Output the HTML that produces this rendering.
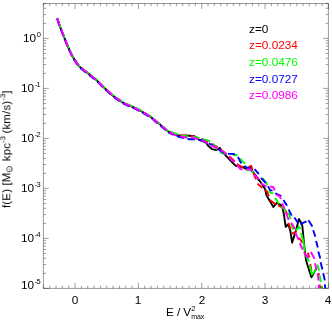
<!DOCTYPE html><html><head><meta charset="utf-8"><style>
html,body{margin:0;padding:0;background:#fff;}body{width:332px;height:332px;position:relative;overflow:hidden;font-family:"Liberation Sans",sans-serif;font-size:11.8px;color:#000;}
.t{position:absolute;white-space:nowrap;line-height:12px;will-change:transform;}
.s{font-size:7.5px;position:relative;}
</style></head><body>
<svg width="332" height="332" viewBox="0 0 332 332" style="position:absolute;left:0;top:0">
<defs><clipPath id="c"><rect x="43.4" y="3.5" width="285" height="284.9"/></clipPath></defs>
<g clip-path="url(#c)" fill="none" stroke-width="1.9" stroke-linejoin="round" stroke-linecap="butt">
<path d="M57.2,18.1 L59.9,26.3 L64.1,37.1 L68.1,47.1 L72.6,56.6 L75.0,60.4 L77.1,63.3 L79.5,66.7 L82.5,69.0 L87.7,73.1 L95.8,79.4 L103.9,87.5 L113.0,95.7 L122.0,102.0 L125.0,103.6 L133.1,107.1 L141.3,111.2 L150.3,116.6 L159.4,123.9 L168.4,131.7 L175.2,135.0 L180.0,135.7 L189.7,135.7 L194.5,136.3 L199.3,139.9 L206.0,142.5 L208.4,146.1 L212.0,149.1 L216.3,150.0 L219.9,147.9 L221.7,150.9 L226.5,156.3 L231.0,161.1 L235.8,165.9 L243.0,167.2 L246.0,168.8 L248.4,167.8 L250.9,166.2 L252.3,171.0 L254.5,174.0 L256.0,175.8 L258.6,179.6 L262.0,184.0 L265.3,189.5 L266.3,195.0 L269.5,200.5 L273.4,206.9 L276.8,203.0 L280.7,204.9 L282.6,208.0 L284.0,215.0 L285.7,226.9 L288.1,224.3 L290.2,230.0 L292.1,242.6 L296.0,230.4 L298.9,218.9 L301.3,223.0 L302.3,225.5 L304.2,245.0 L306.0,260.0 L307.7,265.8 L311.4,277.3 L316.3,268.6" stroke="#000"/>
<path d="M243.0,167.9 L240.0,165.8 L237.7,164.7 L235.2,161.7 L230.0,157.0 L222.0,150.5 L216.9,146.7 L208.0,142.5 L203.0,139.5 L199.3,139.0 L194.0,136.5 L186.0,135.4 L179.4,135.4 L175.2,134.6 L168.4,131.7" stroke="#ff0000" stroke-dasharray="7.3 3.7" stroke-dashoffset="0.00"/>
<path d="M168.4,131.7 L159.4,123.9 L150.3,116.6 L141.3,111.2 L133.1,107.1 L125.0,103.6 L122.0,102.0 L113.0,95.7 L103.9,87.5 L95.8,79.4 L87.7,73.1 L82.5,69.0 L79.5,66.7 L77.1,63.3 L75.0,60.4 L72.6,56.6 L68.1,47.1 L64.1,37.1 L59.9,26.3 L57.2,18.1" stroke="#ff0000" stroke-dasharray="7.3 3.7" stroke-dashoffset="9.02"/>
<path d="M248.4,167.6 L251.1,165.8 L252.3,169.1 M253.5,173.0 L254.6,176.0 L256.0,179.5 M257.5,183.6 L262.2,187.9 M265.0,190.2 L267.1,191.6 L268.9,196.2 M269.9,199.9 L274.4,203.5 L275.8,203.7 M278.0,205.5 L282.8,207.7 M285.3,210.3 L287.3,214.3 M288.4,222.7 L290.6,229.2 M291.8,233.7 L296.0,231.9 M299.0,237.7 L302.7,243.0 M304.2,251.8 L305.4,253.0 M307.8,252.7 L309.3,257.5 M310.3,264.0 L311.5,271.0 M318.4,273.0 L319.3,275.2 M319.7,284.7 L320.4,288.4" stroke="#ff0000"/>
<path d="M245.1,163.7 L241.2,159.8 L240.0,158.7 L236.4,155.0 L230.0,154.0 L222.9,153.3 L219.3,152.1 L215.0,146.0 L213.3,143.7 L208.4,140.7 L199.3,138.0 L194.0,136.9 L186.0,136.3 L180.0,135.0 L175.2,133.3 L168.4,131.2" stroke="#00ff00" stroke-dasharray="7.3 3.7" stroke-dashoffset="0.00"/>
<path d="M168.4,131.2 L159.4,123.4 L150.3,116.1 L141.3,110.7 L133.1,106.6 L125.0,103.1 L122.0,101.5 L113.0,95.2 L103.9,87.0 L95.8,78.9 L87.7,72.6 L82.5,68.5 L79.5,66.2 L77.1,62.8 L75.0,59.9 L72.6,56.1 L68.1,46.6 L64.1,36.6 L59.9,25.8 L57.2,17.6" stroke="#00ff00" stroke-dasharray="7.3 3.7" stroke-dashoffset="0.02"/>
<path d="M246.3,170.0 L251.0,170.4 L253.3,173.0 M262.8,178.4 L267.7,185.0 M268.9,190.2 L270.4,192.8 L273.4,193.4 M275.0,197.7 L279.2,204.0 M281.5,206.3 L286.1,211.0 M288.6,212.4 L290.5,219.0 M290.8,224.0 L293.5,229.5 M295.7,230.7 L299.2,226.6 L300.0,229.0 M301.1,233.1 L303.3,241.0 M303.3,241.0 L304.8,251.4 M306.0,255.7 L308.6,260.5 L309.3,261.5 M309.6,265.0 L312.0,274.5 L316.0,269.6 M317.0,266.4 L317.5,265.2 L319.2,270.6 M319.7,275.3 L320.8,282.0 M321.6,286.0 L322.0,288.4" stroke="#00ff00"/>
<path d="M254.5,169.1 L251.1,168.2 L247.5,167.9 L244.8,166.4 L241.8,163.7 L240.0,161.3 L238.9,158.7 L236.4,155.7 L233.4,153.9 L228.9,153.9 L224.0,153.0 L218.0,149.0 L210.0,144.0 L203.0,140.5 L197.0,139.3 L189.7,139.3 L186.0,138.7 L178.8,136.9 L175.2,135.6 L168.4,132.5" stroke="#0000ff" stroke-dasharray="7.3 3.7" stroke-dashoffset="7.30"/>
<path d="M168.4,132.5 L159.4,124.7 L150.3,117.4 L141.3,112.0 L133.1,107.9 L125.0,104.4 L122.0,102.8 L113.0,96.5 L103.9,88.3 L95.8,80.2 L87.7,73.9 L82.5,69.8 L79.5,67.5 L77.1,64.1 L75.0,61.2 L72.6,57.4 L68.1,47.9 L64.1,37.9 L59.9,27.1 L57.2,18.9" stroke="#0000ff" stroke-dasharray="7.3 3.7" stroke-dashoffset="7.62"/>
<path d="M254.5,169.1 L258.9,174.1 M261.0,177.8 L265.8,183.0 M268.0,186.3 L270.1,190.1 L272.5,190.7 M275.2,193.4 L281.4,196.2 M283.5,200.0 L287.0,205.8 M288.6,209.5 L291.7,215.7 M294.4,217.5 L298.1,222.9 M300.2,224.1 L306.5,221.4 M308.4,220.2 L312.4,226.4 M313.2,230.3 L315.4,236.8 M316.1,241.1 L317.8,247.6 M318.3,251.5 L320.3,258.5 M320.6,262.3 L322.4,269.4 M323.2,273.2 L324.8,280.4 M324.8,284.3 L325.3,288.4" stroke="#0000ff"/>
<path d="M246.0,169.4 L242.4,169.7 L240.0,168.8 L238.3,166.5 L234.6,162.3 L229.8,158.1 L226.8,154.5 L224.1,152.1 L215.7,147.3 L209.6,144.9 L206.0,141.9 L199.3,139.3 L190.3,136.9 L186.0,137.5 L180.0,136.3 L175.2,135.0 L168.4,131.7 L159.4,123.9 L150.3,116.6 L141.3,111.2 L133.1,107.1 L125.0,103.6 L122.0,102.0 L113.0,95.7 L103.9,87.5 L95.8,79.4 L87.7,73.1 L82.5,69.0 L79.5,66.7 L77.1,63.3 L75.0,60.4 L72.6,56.6 L68.1,47.1 L64.1,37.1 L59.9,26.3 L57.2,18.1" stroke="#ff00ff" stroke-dasharray="7.3 3.7" stroke-dashoffset="7.30"/>
<path d="M57.2,18.1 L58.0,20.5 M246.0,169.4 L250.3,169.5 L252.4,171.2 M254.2,174.6 L258.9,179.0 M261.0,183.2 L265.5,186.0 L266.5,186.3 M270.1,186.5 L273.1,187.0 L274.9,190.4 M276.3,194.7 L279.4,196.0 L281.0,198.9 M282.2,203.1 L284.6,209.2 M285.9,212.7 L288.7,219.9 M291.2,222.8 L295.1,229.1 M295.5,232.8 L298.7,239.8 M299.7,243.0 L302.7,249.6 M303.9,252.3 L308.5,258.2 M310.9,252.0 L314.6,258.9 M314.9,263.2 L316.7,269.7 M317.6,273.4 L318.6,280.6 M318.6,284.6 L319.0,288.4" stroke="#ff00ff"/>
</g>
<path d="M43.4,3.5 H328.4 V288.4 H43.4 Z" fill="none" stroke="#000" stroke-width="0.4"/>
<path d="M43.40,288.4 v-2.7 M43.40,3.5 v2.7 M49.73,288.4 v-2.7 M49.73,3.5 v2.7 M56.07,288.4 v-2.7 M56.07,3.5 v2.7 M62.40,288.4 v-2.7 M62.40,3.5 v2.7 M68.73,288.4 v-2.7 M68.73,3.5 v2.7 M75.07,288.4 v-5.5 M75.07,3.5 v5.5 M81.40,288.4 v-2.7 M81.40,3.5 v2.7 M87.73,288.4 v-2.7 M87.73,3.5 v2.7 M94.07,288.4 v-2.7 M94.07,3.5 v2.7 M100.40,288.4 v-2.7 M100.40,3.5 v2.7 M106.73,288.4 v-2.7 M106.73,3.5 v2.7 M113.07,288.4 v-2.7 M113.07,3.5 v2.7 M119.40,288.4 v-2.7 M119.40,3.5 v2.7 M125.73,288.4 v-2.7 M125.73,3.5 v2.7 M132.07,288.4 v-2.7 M132.07,3.5 v2.7 M138.40,288.4 v-5.5 M138.40,3.5 v5.5 M144.73,288.4 v-2.7 M144.73,3.5 v2.7 M151.07,288.4 v-2.7 M151.07,3.5 v2.7 M157.40,288.4 v-2.7 M157.40,3.5 v2.7 M163.73,288.4 v-2.7 M163.73,3.5 v2.7 M170.07,288.4 v-2.7 M170.07,3.5 v2.7 M176.40,288.4 v-2.7 M176.40,3.5 v2.7 M182.73,288.4 v-2.7 M182.73,3.5 v2.7 M189.07,288.4 v-2.7 M189.07,3.5 v2.7 M195.40,288.4 v-2.7 M195.40,3.5 v2.7 M201.73,288.4 v-5.5 M201.73,3.5 v5.5 M208.07,288.4 v-2.7 M208.07,3.5 v2.7 M214.40,288.4 v-2.7 M214.40,3.5 v2.7 M220.73,288.4 v-2.7 M220.73,3.5 v2.7 M227.07,288.4 v-2.7 M227.07,3.5 v2.7 M233.40,288.4 v-2.7 M233.40,3.5 v2.7 M239.73,288.4 v-2.7 M239.73,3.5 v2.7 M246.07,288.4 v-2.7 M246.07,3.5 v2.7 M252.40,288.4 v-2.7 M252.40,3.5 v2.7 M258.73,288.4 v-2.7 M258.73,3.5 v2.7 M265.07,288.4 v-5.5 M265.07,3.5 v5.5 M271.40,288.4 v-2.7 M271.40,3.5 v2.7 M277.73,288.4 v-2.7 M277.73,3.5 v2.7 M284.07,288.4 v-2.7 M284.07,3.5 v2.7 M290.40,288.4 v-2.7 M290.40,3.5 v2.7 M296.73,288.4 v-2.7 M296.73,3.5 v2.7 M303.07,288.4 v-2.7 M303.07,3.5 v2.7 M309.40,288.4 v-2.7 M309.40,3.5 v2.7 M315.73,288.4 v-2.7 M315.73,3.5 v2.7 M322.07,288.4 v-2.7 M322.07,3.5 v2.7 M328.40,288.4 v-5.5 M328.40,3.5 v5.5 M43.4,288.40 h5.4 M328.4,288.40 h-5.4 M43.4,273.35 h2.7 M328.4,273.35 h-2.7 M43.4,264.54 h2.7 M328.4,264.54 h-2.7 M43.4,258.30 h2.7 M328.4,258.30 h-2.7 M43.4,253.45 h2.7 M328.4,253.45 h-2.7 M43.4,249.49 h2.7 M328.4,249.49 h-2.7 M43.4,246.15 h2.7 M328.4,246.15 h-2.7 M43.4,243.25 h2.7 M328.4,243.25 h-2.7 M43.4,240.69 h2.7 M328.4,240.69 h-2.7 M43.4,238.40 h5.4 M328.4,238.40 h-5.4 M43.4,223.35 h2.7 M328.4,223.35 h-2.7 M43.4,214.54 h2.7 M328.4,214.54 h-2.7 M43.4,208.30 h2.7 M328.4,208.30 h-2.7 M43.4,203.45 h2.7 M328.4,203.45 h-2.7 M43.4,199.49 h2.7 M328.4,199.49 h-2.7 M43.4,196.15 h2.7 M328.4,196.15 h-2.7 M43.4,193.25 h2.7 M328.4,193.25 h-2.7 M43.4,190.69 h2.7 M328.4,190.69 h-2.7 M43.4,188.40 h5.4 M328.4,188.40 h-5.4 M43.4,173.35 h2.7 M328.4,173.35 h-2.7 M43.4,164.54 h2.7 M328.4,164.54 h-2.7 M43.4,158.30 h2.7 M328.4,158.30 h-2.7 M43.4,153.45 h2.7 M328.4,153.45 h-2.7 M43.4,149.49 h2.7 M328.4,149.49 h-2.7 M43.4,146.15 h2.7 M328.4,146.15 h-2.7 M43.4,143.25 h2.7 M328.4,143.25 h-2.7 M43.4,140.69 h2.7 M328.4,140.69 h-2.7 M43.4,138.40 h5.4 M328.4,138.40 h-5.4 M43.4,123.35 h2.7 M328.4,123.35 h-2.7 M43.4,114.54 h2.7 M328.4,114.54 h-2.7 M43.4,108.30 h2.7 M328.4,108.30 h-2.7 M43.4,103.45 h2.7 M328.4,103.45 h-2.7 M43.4,99.49 h2.7 M328.4,99.49 h-2.7 M43.4,96.15 h2.7 M328.4,96.15 h-2.7 M43.4,93.25 h2.7 M328.4,93.25 h-2.7 M43.4,90.69 h2.7 M328.4,90.69 h-2.7 M43.4,88.40 h5.4 M328.4,88.40 h-5.4 M43.4,73.35 h2.7 M328.4,73.35 h-2.7 M43.4,64.54 h2.7 M328.4,64.54 h-2.7 M43.4,58.30 h2.7 M328.4,58.30 h-2.7 M43.4,53.45 h2.7 M328.4,53.45 h-2.7 M43.4,49.49 h2.7 M328.4,49.49 h-2.7 M43.4,46.15 h2.7 M328.4,46.15 h-2.7 M43.4,43.25 h2.7 M328.4,43.25 h-2.7 M43.4,40.69 h2.7 M328.4,40.69 h-2.7 M43.4,38.40 h5.4 M328.4,38.40 h-5.4 M43.4,23.35 h2.7 M328.4,23.35 h-2.7 M43.4,14.54 h2.7 M328.4,14.54 h-2.7 M43.4,8.30 h2.7 M328.4,8.30 h-2.7 M43.4,3.45 h2.7 M328.4,3.45 h-2.7" fill="none" stroke="#000" stroke-width="0.38"/>
</svg>
<div class="t" style="right:292.4px;top:279.0px">10<span class="s" style="top:-5.4px;left:0.5px;letter-spacing:-0.5px">-5</span></div>
<div class="t" style="right:292.4px;top:231.9px">10<span class="s" style="top:-5.4px;left:0.5px;letter-spacing:-0.5px">-4</span></div>
<div class="t" style="right:292.4px;top:181.9px">10<span class="s" style="top:-5.4px;left:0.5px;letter-spacing:-0.5px">-3</span></div>
<div class="t" style="right:292.4px;top:131.9px">10<span class="s" style="top:-5.4px;left:0.5px;letter-spacing:-0.5px">-2</span></div>
<div class="t" style="right:292.4px;top:81.9px">10<span class="s" style="top:-5.4px;left:0.5px;letter-spacing:-0.5px">-1</span></div>
<div class="t" style="right:292.4px;top:31.9px">10<span class="s" style="top:-5.4px;left:0.5px;letter-spacing:-0.5px">0</span></div>
<div class="t" style="left:65.1px;width:20px;text-align:center;top:293.8px">0</div>
<div class="t" style="left:128.4px;width:20px;text-align:center;top:293.8px">1</div>
<div class="t" style="left:191.7px;width:20px;text-align:center;top:293.8px">2</div>
<div class="t" style="left:255.1px;width:20px;text-align:center;top:293.8px">3</div>
<div class="t" style="left:318.4px;width:20px;text-align:center;top:293.8px">4</div>
<div class="t" style="left:166.2px;top:306.2px;letter-spacing:-0.1px">E / V<span class="s" style="top:-4.8px;left:0.1px">2</span><span class="s" style="top:2.6px;left:-3.9px;font-size:7px;letter-spacing:-0.1px">max</span></div>
<div class="t" style="left:0;top:0;transform-origin:0 0;transform:translate(0.3px,208px) rotate(-90deg);letter-spacing:0.15px;font-size:11.5px">f(E) [M<span class="s" style="top:2.3px;font-size:8.5px;margin-left:-0.3px">&#8857;</span> kpc<span class="s" style="top:-5px">-3</span> <span style="margin-left:-1px">(</span>km/s)<span class="s" style="top:-5px">-3</span>]</div>
<div class="t" style="left:249.1px;top:22.8px;color:#000">z=0</div>
<div class="t" style="left:249.1px;top:39.4px;color:#f00">z=0.0234</div>
<div class="t" style="left:249.1px;top:56.0px;color:#0f0">z=0.0476</div>
<div class="t" style="left:249.1px;top:72.6px;color:#00f">z=0.0727</div>
<div class="t" style="left:249.1px;top:89.2px;color:#f0f">z=0.0986</div>
</body></html>
